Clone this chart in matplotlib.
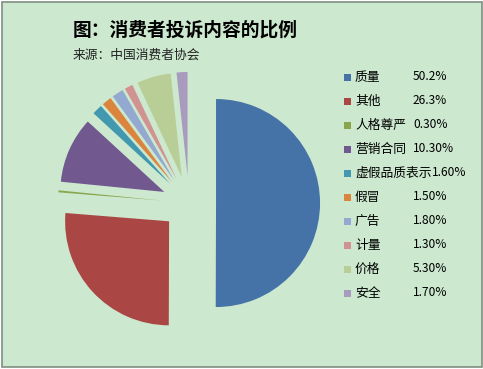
import matplotlib
matplotlib.use("Agg")
import matplotlib.pyplot as plt
from matplotlib.patches import Rectangle

plt.rcParams['font.family'] = ['Noto Sans CJK SC', 'DejaVu Sans']

# 数据
categorias = ["质量", "其他", "人格尊严", "营销合同", "虚假品质表示",
              "假冒", "广告", "计量", "价格", "安全"]
valores = [50.2, 26.3, 0.3, 10.3, 1.6, 1.5, 1.8, 1.3, 5.3, 1.7]
rotulos = ["50.2%", "26.3%", "0.30%", "10.30%", "1.60%",
           "1.50%", "1.80%", "1.30%", "5.30%", "1.70%"]
cores = ["#4572A7", "#AA4643", "#89A54E", "#71588F", "#4198AF",
         "#DB843D", "#93A9CF", "#D19392", "#B9CD96", "#A99BBD"]

W, H = 483, 369
fundo = "#CCE8CF"

fig = plt.figure(figsize=(W / 100, H / 100), dpi=100)
fig.patch.set_facecolor("white")
fig.patches.append(Rectangle((1.5 / W, 2 / H), (W - 3) / W, (H - 4) / H,
                             transform=fig.transFigure, facecolor=fundo,
                             edgecolor="#7F8F80", linewidth=1.2, zorder=-5))

# pizza: centro em (189, 203) px, raio 104 px
cx, cy, r = 189, 203, 104
lim = 1.4
lado = 2 * lim * r
ax = fig.add_axes([(cx - lado / 2) / W, (H - cy - lado / 2) / H, lado / W, lado / H])
ax.set_facecolor("none")
ax.pie(valores, colors=cores, startangle=90, counterclock=False,
       explode=[0.26] * len(valores), radius=1,
       wedgeprops=dict(linewidth=0))
ax.set_xlim(-lim, lim)
ax.set_ylim(-lim, lim)
ax.set_aspect("auto")
ax.axis("off")

# título
fig.text(73 / W, 1 - 30 / H, "图：消费者投诉内容的比例", fontsize=13.5,
         fontweight="bold", va="center", ha="left")
fig.text(73 / W, 1 - 55 / H, "来源：中国消费者协会", fontsize=9.2,
         va="center", ha="left", color="#222222")

# legenda
for i, (nome, txt, cor) in enumerate(zip(categorias, rotulos, cores)):
    y = 77 + i * 24
    fig.patches.append(Rectangle((344 / W, 1 - (y + 3.5) / H), 7 / W, 7 / H,
                                 transform=fig.transFigure, facecolor=cor,
                                 edgecolor="none"))
    fig.text(355 / W, 1 - y / H, nome, fontsize=9.2, va="center", ha="left")
    xp = max(413, 355 + len(nome) * 12.7 + 1)
    fig.text(xp / W, 1 - y / H, txt, fontsize=8.6, va="center", ha="left")

fig.savefig("out.png", dpi=100, facecolor=fig.get_facecolor())
